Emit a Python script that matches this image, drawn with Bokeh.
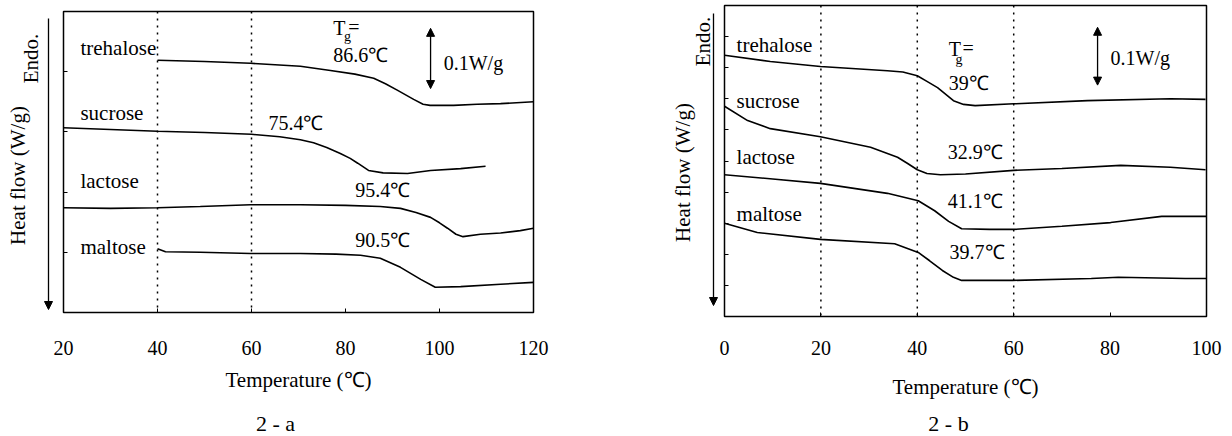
from math import pi
from bokeh.plotting import figure
from bokeh.layouts import row, column
from bokeh.models import Span, Label, Arrow, NormalHead, FixedTicker, Range1d
from bokeh.embed import file_html
from bokeh.resources import INLINE

FONT = "Liberation Serif"

# ---------------- data: panel 2-a ----------------
a_tre_T = [40.0, 50.0, 59.8, 70.4, 76.8, 82.0, 86.0, 88.5, 91.1, 94.5, 96.5, 98.0, 103.0, 108.0, 113.0, 120.0]
a_tre_y = [0.419, 0.417, 0.414, 0.409, 0.402, 0.396, 0.389, 0.380, 0.369, 0.354, 0.346, 0.344, 0.344, 0.346, 0.347, 0.350]

a_suc_T = [20, 30, 40, 50, 60, 66, 70.4, 73.2, 76, 78.9, 81, 82.6, 84.9, 88, 93.2, 98.1, 104.5, 109.8]
a_suc_y = [0.307, 0.304, 0.301, 0.299, 0.296, 0.292, 0.287, 0.282, 0.274, 0.264, 0.256, 0.248, 0.236, 0.232, 0.231, 0.236, 0.239, 0.243]

a_lac_T = [20, 30, 40, 49.1, 59.8, 70.4, 80, 87.4, 91.7, 95, 98.1, 100, 101.7, 103.5, 105, 108.7, 113, 117.2, 120]
a_lac_y = [0.174, 0.173, 0.174, 0.176, 0.179, 0.179, 0.178, 0.176, 0.173, 0.166, 0.158, 0.149, 0.140, 0.130, 0.126, 0.130, 0.132, 0.136, 0.140]

a_mal_T = [40, 41.7, 49.1, 59.8, 70.4, 78, 83.2, 87.4, 91.7, 96.0, 99.1, 104.5, 113.0, 120]
a_mal_y = [0.106, 0.101, 0.100, 0.098, 0.098, 0.097, 0.095, 0.090, 0.075, 0.055, 0.042, 0.043, 0.047, 0.050]

a_names = ["trehalose", "sucrose", "lactose", "maltose"]
a_name_T = [23.6, 23.6, 23.6, 23.6]
a_name_y = [0.440, 0.331, 0.219, 0.108]
a_tg_text = ["86.6\u2103", "75.4\u2103", "95.4\u2103", "90.5\u2103"]
a_tg_T = [77.4, 63.6, 82.1, 82.1]
a_tg_y = [0.427, 0.314, 0.203, 0.120]
a_ticks = [20, 40, 60, 80, 100, 120]
a_dotted = [40, 60]

# ---------------- data: panel 2-b ----------------
b_tre_T = [0, 9.5, 19.9, 33.8, 37, 40.0, 42, 44.2, 47.5, 49.6, 52, 60.0, 75.3, 92.5, 99.8]
b_tre_y = [0.420, 0.410, 0.402, 0.395, 0.393, 0.387, 0.378, 0.368, 0.347, 0.341, 0.339, 0.342, 0.347, 0.350, 0.349]

b_suc_T = [0, 4.8, 9.5, 19.9, 30.3, 35.9, 38, 40.0, 42, 44.8, 50, 60, 70, 82.2, 92.5, 99.8]
b_suc_y = [0.338, 0.315, 0.302, 0.289, 0.272, 0.256, 0.246, 0.236, 0.230, 0.228, 0.229, 0.235, 0.238, 0.243, 0.240, 0.236]

b_lac_T = [0, 10, 19.9, 33.8, 40.2, 43.6, 46.5, 49.2, 55, 59.8, 70, 80.1, 90.7, 100]
b_lac_y = [0.228, 0.221, 0.214, 0.198, 0.186, 0.170, 0.153, 0.141, 0.140, 0.140, 0.145, 0.151, 0.161, 0.161]

b_mal_T = [0, 6.8, 19.9, 35.3, 40.2, 42.5, 45.2, 47.5, 49.2, 59.8, 76.1, 81.7, 95.6, 100]
b_mal_y = [0.150, 0.135, 0.124, 0.117, 0.103, 0.090, 0.074, 0.063, 0.058, 0.058, 0.061, 0.063, 0.061, 0.061]

b_names = ["trehalose", "sucrose", "lactose", "maltose"]
b_name_T = [2.5, 2.5, 2.5, 2.5]
b_name_y = [0.436, 0.347, 0.256, 0.164]
b_tg_text = ["39\u2103", "32.9\u2103", "41.1\u2103", "39.7\u2103"]
b_tg_T = [46.5, 46.3, 46.3, 46.7]
b_tg_y = [0.376, 0.264, 0.186, 0.103]
b_ticks = [0, 20, 40, 60, 80, 100]
b_dotted = [20, 40, 60]

PANEL_H = 405
STRIP_H = 436 - PANEL_H


def blank(width, height, top=0, bottom=0):
    """Axis-less figure; its frame spans rows top..height-bottom, data units = page pixels."""
    f = figure(width=width, height=height, x_range=Range1d(0, width),
               y_range=Range1d(height - bottom, top),
               output_backend="svg", toolbar_location=None, x_axis_type=None, y_axis_type=None,
               min_border_left=0, min_border_right=0, min_border_top=top,
               min_border_bottom=bottom, outline_line_color=None)
    f.xgrid.visible = False
    f.ygrid.visible = False
    return f


def side_panel(width, top, bottom, endo, hf, arr):
    f = blank(width, PANEL_H, top, PANEL_H - bottom)
    f.add_layout(Label(x=endo[0], y=endo[1], text="Endo.", angle=pi / 2, text_font=FONT,
                       text_font_size="21px", text_color="black", text_align="center",
                       text_baseline="middle"))
    f.add_layout(Label(x=hf[0], y=hf[1], text="Heat flow (W/g)", angle=pi / 2, text_font=FONT,
                       text_font_size="21px", text_color="black", text_align="center",
                       text_baseline="middle"))
    f.add_layout(Arrow(x_start=arr[0], y_start=arr[1], x_end=arr[0], y_end=arr[2], line_width=1.3,
                       end=NormalHead(size=8, fill_color="black", line_color="black")))
    return f


def make_panel(xr, xticks, yticks, dotted, curves, names, nT, ny, tgs, tgT, tgy,
               tg_head, scale_bar, width, bl, br, bt, bb, tick_stand, lab_stand):
    p = figure(width=width, height=PANEL_H, x_range=Range1d(*xr), y_range=Range1d(0, 0.5),
               output_backend="svg", toolbar_location=None,
               min_border_left=bl, min_border_right=br, min_border_top=bt, min_border_bottom=bb)
    p.xgrid.visible = False
    p.ygrid.visible = False
    p.outline_line_color = "black"
    p.outline_line_width = 1.5

    xa = p.xaxis[0]
    xa.ticker = FixedTicker(ticks=xticks)
    xa.major_tick_in = 4
    xa.major_tick_out = 0
    xa.minor_tick_line_color = None
    xa.axis_line_color = "black"
    xa.major_label_text_font = FONT
    xa.major_label_text_font_size = "20px"
    xa.major_label_text_color = "black"
    xa.major_label_standoff = tick_stand
    xa.axis_label = "Temperature (\u2103)"
    xa.axis_label_text_font = FONT
    xa.axis_label_text_font_size = "21px"
    xa.axis_label_text_font_style = "normal"
    xa.axis_label_text_color = "black"
    xa.axis_label_standoff = lab_stand

    ya = p.yaxis[0]
    ya.ticker = FixedTicker(ticks=yticks)
    ya.major_tick_in = 4
    ya.major_tick_out = 0
    ya.minor_tick_line_color = None
    ya.major_label_overrides = {t: "" for t in yticks}
    ya.major_label_standoff = 0
    ya.major_label_text_font_size = "1px"

    for d in dotted:
        p.add_layout(Span(location=d, dimension="height", line_color="black",
                          line_width=1.5, line_dash="2 5"))

    for T, y in curves:
        p.line(T, y, line_color="black", line_width=1.6)

    def lab(x, y, s, size=21):
        p.add_layout(Label(x=x, y=y, text=s, text_font=FONT, text_font_size=f"{size}px",
                           text_color="black", text_baseline="middle", text_align="left"))

    for s, x, y in zip(names, nT, ny):
        lab(x, y, s)
    for s, x, y in zip(tgs, tgT, tgy):
        lab(x, y, s, 20)

    (tx, ty), (gx, gy), (ex, ey) = tg_head
    lab(tx, ty, "T", 20)
    lab(gx, gy, "g", 14)
    lab(ex, ey, "=", 20)

    (ax, ay0, ay1), (sx, sy) = scale_bar
    p.add_layout(Arrow(x_start=ax, y_start=ay0, x_end=ax, y_end=ay1, line_width=1.3,
                       start=NormalHead(size=8, fill_color="black", line_color="black"),
                       end=NormalHead(size=8, fill_color="black", line_color="black")))
    lab(sx, sy, "0.1W/g", 20)
    return p


# left group: frame rows 11..312
side_a = side_panel(53, 11, 312, (30, 58), (17, 175), (48, 18, 309))
pa = make_panel((20, 120), a_ticks, [0.1, 0.2, 0.3, 0.4], a_dotted,
                [(a_tre_T, a_tre_y), (a_suc_T, a_suc_y), (a_lac_T, a_lac_y), (a_mal_T, a_mal_y)],
                a_names, a_name_T, a_name_y, a_tg_text, a_tg_T, a_tg_y,
                ((77.4, 0.472), (79.7, 0.458), (80.6, 0.474)),
                ((98.1, 0.372, 0.472), (100.9, 0.415)),
                563, 10, 83, 11, PANEL_H - 312, 28, 10)

# right group: frame rows 5..316
side_b = side_panel(102, 5, 316, (86, 41), (66, 172), (97, 13, 305))
pb = make_panel((0, 100), b_ticks, [0.05 * i for i in range(1, 10)], b_dotted,
                [(b_tre_T, b_tre_y), (b_suc_T, b_suc_y), (b_lac_T, b_lac_y), (b_mal_T, b_mal_y)],
                b_names, b_name_T, b_name_y, b_tg_text, b_tg_T, b_tg_y,
                ((46.5, 0.430), (47.9, 0.413), (49.4, 0.431)),
                ((77.4, 0.372, 0.465), (80.1, 0.416)),
                514, 6, 26, 5, PANEL_H - 316, 24, 17)

strip = blank(1232, STRIP_H)
for txt, cx in [("2 - a", 275), ("2 - b", 948)]:
    strip.add_layout(Label(x=cx, y=18, text=txt, text_font=FONT, text_font_size="22px",
                           text_color="black", text_align="center", text_baseline="middle"))

layout = column(row(row(side_a, pa), row(side_b, pb)), strip)
open("out.html", "w").write(file_html(layout, INLINE))
